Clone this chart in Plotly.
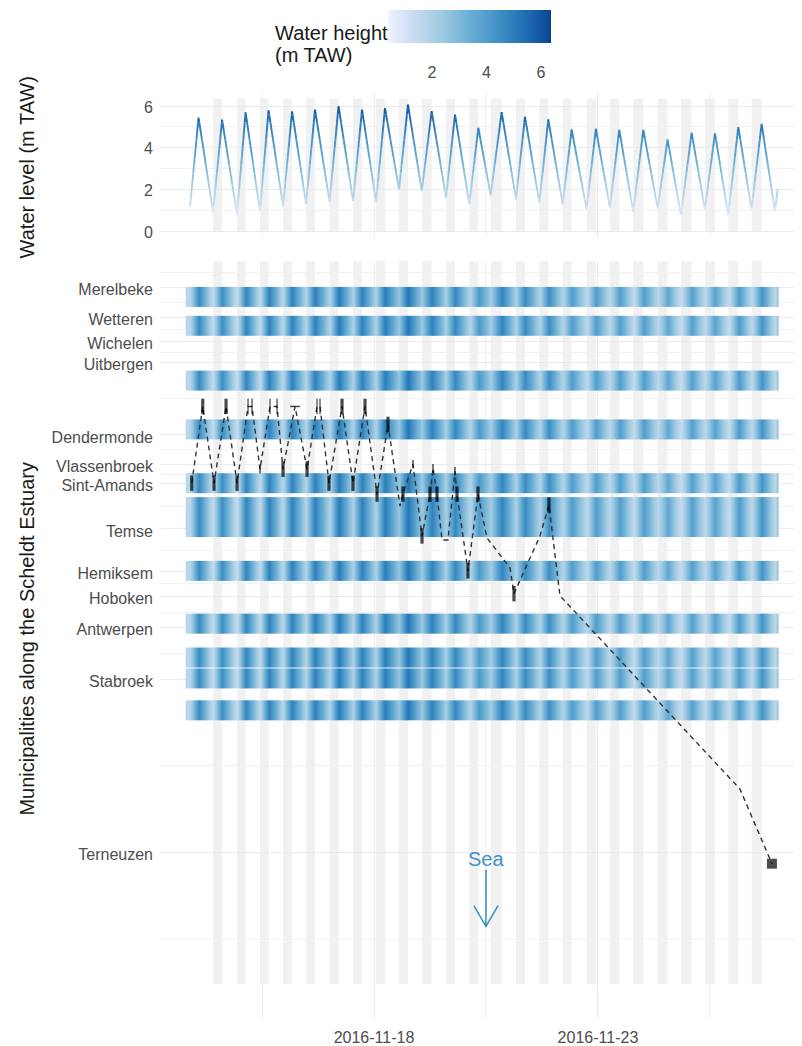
import plotly.graph_objects as go
from plotly.colors import sample_colorscale

# page body has an 8px margin; the figure is sized so that it fills the window
OFF = 8
WIN_W, WIN_H = 802, 1046
W, H = WIN_W - OFF, WIN_H - OFF

# ---------------- data ----------------
# Water level at the reference gauge (start, then alternating high / low water, end)
tide_time = [
    "2016-11-13 21:24", "2016-11-14 02:00", "2016-11-14 09:48", "2016-11-14 14:36",
    "2016-11-14 22:36", "2016-11-15 03:12", "2016-11-15 10:54", "2016-11-15 15:30",
    "2016-11-15 23:18", "2016-11-16 04:06", "2016-11-16 11:36", "2016-11-16 16:24",
    "2016-11-17 00:12", "2016-11-17 05:00", "2016-11-17 12:48", "2016-11-17 17:36",
    "2016-11-18 01:06", "2016-11-18 05:54", "2016-11-18 13:24", "2016-11-18 18:12",
    "2016-11-19 01:36", "2016-11-19 06:54", "2016-11-19 14:36", "2016-11-19 19:24",
    "2016-11-20 03:06", "2016-11-20 07:54", "2016-11-20 14:30", "2016-11-20 20:24",
    "2016-11-21 04:06", "2016-11-21 08:54", "2016-11-21 16:36", "2016-11-21 21:24",
    "2016-11-22 05:06", "2016-11-22 09:54", "2016-11-22 17:54", "2016-11-22 22:54",
    "2016-11-23 06:24", "2016-11-23 11:24", "2016-11-23 18:54", "2016-11-24 00:18",
    "2016-11-24 08:00", "2016-11-24 13:18", "2016-11-24 20:30", "2016-11-25 02:12",
    "2016-11-25 09:18", "2016-11-25 14:42", "2016-11-25 21:48", "2016-11-26 03:12",
    "2016-11-26 10:18", "2016-11-26 15:42", "2016-11-26 22:48", "2016-11-27 00:18",
]
tide_height = [
    1.15, 5.45, 0.90, 5.35, 0.80, 5.70, 0.97, 5.80, 1.20, 5.75, 1.30, 5.83,
    1.40, 6.00, 1.45, 5.83, 1.40, 5.90, 2.00, 6.07, 1.93, 5.76, 1.61, 5.60,
    1.29, 4.96, 1.72, 5.71, 1.53, 5.49, 1.37, 5.36, 1.29, 4.88, 1.05, 4.91,
    1.13, 4.86, 0.92, 4.86, 1.09, 4.40, 0.77, 4.72, 1.05, 4.69, 0.77, 4.99,
    1.05, 5.15, 0.97, 2.00,
]
station_height = [
    1.70, 4.60, 1.45, 4.50, 1.35, 4.80, 1.55, 4.90, 1.75, 4.90, 1.85, 4.90,
    1.95, 5.10, 2.00, 4.90, 1.95, 5.00, 2.50, 5.20, 2.40, 4.90, 2.15, 4.70,
    1.85, 4.10, 2.25, 4.80, 2.05, 4.60, 1.95, 4.50, 1.85, 4.00, 1.60, 4.00,
    1.65, 4.00, 1.45, 4.00, 1.65, 3.60, 1.35, 3.90, 1.60, 3.80, 1.35, 4.10,
    1.60, 4.30, 1.55, 2.50,
]

municipality = ["Merelbeke", "Wetteren", "Wichelen", "Uitbergen", "Dendermonde",
                "Vlassenbroek", "Sint-Amands", "Temse", "Hemiksem", "Hoboken",
                "Antwerpen", "Stabroek", "Terneuzen"]
municipality_km = [162.1, 154.6, 148.6, 143.2, 125.1, 117.6, 113.0, 101.5,
                   90.9, 84.5, 76.75, 63.8, 20.25]

# Receiver stations with modelled water height (rows of tiles)
station_km = [159.75, 152.5, 138.75, 126.5, 113.0, 107.0, 102.0, 91.0,
              77.75, 69.25, 64.0, 56.0]

# Track of the tagged animal
track_time = [
    "2016-11-13 22:20", "2016-11-14 04:14", "2016-11-14 10:17", "2016-11-14 16:43",
    "2016-11-14 22:37", "2016-11-15 04:30", "2016-11-15 06:38", "2016-11-15 10:56",
    "2016-11-15 16:17", "2016-11-15 20:02", "2016-11-15 23:15", "2016-11-16 05:41",
    "2016-11-16 12:07", "2016-11-16 17:28", "2016-11-16 19:04", "2016-11-16 23:53",
    "2016-11-17 06:52", "2016-11-17 12:45", "2016-11-17 19:11", "2016-11-18 01:37",
    "2016-11-18 07:30", "2016-11-18 13:56", "2016-11-18 15:32", "2016-11-18 20:53",
    "2016-11-19 01:43", "2016-11-19 06:00", "2016-11-19 07:37", "2016-11-19 09:45",
    "2016-11-19 12:26", "2016-11-19 15:38", "2016-11-19 19:23", "2016-11-19 20:28",
    "2016-11-20 02:21", "2016-11-20 07:43", "2016-11-20 12:32", "2016-11-21 00:51",
    "2016-11-21 03:00", "2016-11-21 16:56", "2016-11-21 21:45", "2016-11-22 03:38",
    "2016-11-26 04:04", "2016-11-26 19:04", "2016-11-26 21:13",
]
track_km = [
    113.0, 132.25, 113.0, 132.25, 113.0, 132.25, 132.25, 116.5, 132.25, 132.25,
    116.5, 132.25, 116.5, 132.25, 132.25, 113.0, 132.25, 113.0, 132.25, 110.25,
    127.75, 107.25, 110.25, 117.75, 99.75, 110.25, 116.75, 110.25, 98.75, 98.75,
    116.0, 110.25, 91.0, 110.25, 99.25, 91.75, 85.25, 99.75, 107.5, 84.75,
    36.25, 19.75, 17.5,
]
track_mark = [
    "bar", "bar", "bar", "bar", "bar", "thin", "thin", "small", "thin", "thin",
    "bar", "dash", "bar", "thin", "thin", "bar", "bar", "bar", "bar", "bar",
    "bar", "none", "bar", "small", "bar", "bar", "small", "bar", "none", "none",
    "small", "bar", "bar", "bar", "none", "none", "bar", "none", "bar", "none",
    "none", "none", "end",
]

# Sea annotation
SEA_TIME = "2016-11-20 12:00"
SEA_TEXT_KM = 18.6
SEA_TAIL_KM = 16.0
SEA_TIP_KM = 1.75
SEA_HEAD_KM = 7.0
SEA_HEAD_LEFT = "2016-11-20 05:30"
SEA_HEAD_RIGHT = "2016-11-20 18:30"

# colour scale
LEGEND_MIN, LEGEND_MAX = 0.385, 6.37
BLUES = ["#EFF3FF", "#C6DBEF", "#9ECAE1", "#6BAED6", "#4292C6", "#2171B5", "#084594"]
colorscale = [[i / 6, c] for i, c in enumerate(BLUES)]

# ---------------- layout geometry (window pixels -> paper fractions) ----------------
def px_x(p):
    return (p - OFF) / W

def px_y(p):
    return 1 - (p - OFF) / H

X_RANGE = ["2016-11-13 05:20", "2016-11-27 13:20"]
x_dom = [px_x(160), 1.0]
top_dom = [px_y(238), px_y(92)]
bot_dom = [px_y(1022), px_y(262)]
TOP_RANGE = [-0.287, 6.69]
BOT_RANGE = [-21.25, 168.75]
BAND_TOP_Y = [0.0, 6.36]
BAND_BOT_Y = [-12.75, BOT_RANGE[1]]

FONT = "Liberation Sans, Arial, sans-serif"
GRID = "#EBEBEB"
MINOR = "#F1F1F1"
TXT = "#4D4D4D"

fig = go.Figure()

# ---------------- top panel: gradient line via stacked clipped sub-axes ----------------
fig.add_trace(go.Scatter(x=tide_time, y=tide_height, mode="lines",
                         line=dict(color="rgba(0,0,0,0)", width=0),
                         xaxis="x2", yaxis="y2", hoverinfo="skip", showlegend=False))

band_edges = [round(0.0 + 0.4 * i, 2) for i in range(17)]
extra_axes = {}
for k in range(len(band_edges) - 1):
    a, b = band_edges[k], band_edges[k + 1]
    fa = top_dom[0] + (a - TOP_RANGE[0]) / (TOP_RANGE[1] - TOP_RANGE[0]) * (top_dom[1] - top_dom[0])
    fb = top_dom[0] + (b - TOP_RANGE[0]) / (TOP_RANGE[1] - TOP_RANGE[0]) * (top_dom[1] - top_dom[0])
    mid = (a + b) / 2
    frac = min(1, max(0, (mid - LEGEND_MIN) / (LEGEND_MAX - LEGEND_MIN)))
    col = sample_colorscale(colorscale, [frac])[0]
    name = f"yaxis{3 + k}"
    extra_axes[name] = dict(domain=[fa, fb], range=[a, b], anchor="x2", visible=False,
                            fixedrange=True)
    fig.add_trace(go.Scatter(x=tide_time, y=tide_height, mode="lines",
                             line=dict(color=col, width=1.9, simplify=False),
                             xaxis="x2", yaxis=f"y{3 + k}", hoverinfo="skip",
                             showlegend=False))

# ---------------- bottom panel: heat rows ----------------
for i, c in enumerate(station_km):
    fig.add_trace(go.Heatmap(
        x=tide_time, y=[c - 1.25, c + 1.25], z=[station_height, station_height],
        zsmooth="best", colorscale=colorscale, zmin=LEGEND_MIN, zmax=LEGEND_MAX,
        xaxis="x", yaxis="y", hoverinfo="skip",
        showscale=(i == 0),
        colorbar=dict(orientation="h", x=px_x((388 + 551) / 2), xanchor="center",
                      y=px_y(10), yanchor="top", len=163, lenmode="pixels",
                      thickness=33, thicknessmode="pixels", xpad=0, ypad=0,
                      outlinewidth=0, tickvals=[2, 4, 6], ticks="outside",
                      ticklen=16, tickcolor="rgba(0,0,0,0)",
                      tickfont=dict(size=16, color=TXT, family=FONT)),
    ))

# track
fig.add_trace(go.Scatter(x=track_time, y=track_km, mode="lines",
                         line=dict(color="#333333", width=1.4, dash="5px,4px"),
                         xaxis="x", yaxis="y", hoverinfo="skip", showlegend=False))

style = {"bar": ("line-ns", 11, 3.2), "thin": ("line-ns", 11, 1.3),
         "small": ("line-ns", 6, 1.5), "dash": ("line-ew", 7, 1.5),
         "end": ("square", 10, 0.0)}
mk = [(t, y, style[m]) for t, y, m in zip(track_time, track_km, track_mark) if m != "none"]
fig.add_trace(go.Scatter(
    x=[m[0] for m in mk], y=[m[1] for m in mk], mode="markers",
    marker=dict(symbol=[m[2][0] for m in mk], size=[m[2][1] for m in mk],
                color="black", line=dict(color="black", width=[m[2][2] for m in mk])),
    xaxis="x", yaxis="y", hoverinfo="skip", showlegend=False))

# Sea arrow
SEA_COL = "#3F93C6"
fig.add_trace(go.Scatter(
    x=[SEA_TIME, SEA_TIME, None, SEA_HEAD_LEFT, SEA_TIME, SEA_HEAD_RIGHT],
    y=[SEA_TAIL_KM, SEA_TIP_KM, None, SEA_HEAD_KM, SEA_TIP_KM, SEA_HEAD_KM],
    mode="lines", line=dict(color=SEA_COL, width=1.6),
    xaxis="x", yaxis="y", hoverinfo="skip", showlegend=False))

# ---------------- shading of flood periods ----------------
shapes = []
n = len(tide_height)
for i in range(1, n - 2):
    is_low = tide_height[i] < tide_height[i - 1] and tide_height[i] < tide_height[i + 1]
    next_high = tide_height[i + 1] > tide_height[i + 2]
    if is_low and next_high:
        for xr, yr, yy in (("x2", "y2", BAND_TOP_Y), ("x", "y", BAND_BOT_Y)):
            shapes.append(dict(type="rect", xref=xr, yref=yr, x0=tide_time[i],
                               x1=tide_time[i + 1], y0=yy[0], y1=yy[1],
                               fillcolor="#F1F1F1", line=dict(width=0), layer="below"))

# minor breaks for municipality axis
mk_minor = [(a + b) / 2 for a, b in zip(municipality_km[:-1], municipality_km[1:])]
mk_minor = ([municipality_km[0] + (municipality_km[0] - municipality_km[1]) / 2] + mk_minor
            + [municipality_km[-1] - (municipality_km[-2] - municipality_km[-1]) / 2])

x_major = ["2016-11-18", "2016-11-23"]
x_minor = ["2016-11-15 12:00", "2016-11-20 12:00", "2016-11-25 12:00"]

xaxis_common = dict(type="date", range=X_RANGE, domain=x_dom, showgrid=True,
                    gridcolor=GRID, gridwidth=1.1, zeroline=False, showline=False,
                    ticks="", tickvals=x_major, ticktext=x_major,
                    minor=dict(tickvals=x_minor, showgrid=True, gridcolor=MINOR, gridwidth=0.8),
                    fixedrange=True)

layout = dict(
    width=W, height=H, margin=dict(l=0, r=0, t=0, b=0),
    paper_bgcolor="white", plot_bgcolor="rgba(0,0,0,0)",
    font=dict(family=FONT, size=16, color=TXT),
    showlegend=False,
    xaxis=dict(**xaxis_common, anchor="y",
               tickfont=dict(size=16, color=TXT), ticklabelstandoff=8),
    xaxis2=dict(**xaxis_common, anchor="y2", matches="x", showticklabels=False),
    yaxis=dict(domain=bot_dom, range=BOT_RANGE, anchor="x", tickvals=municipality_km,
               ticktext=municipality, showgrid=True, gridcolor=GRID, gridwidth=1.1,
               zeroline=False, ticks="", ticklabelstandoff=6, ticklabelshift=2,
               minor=dict(tickvals=mk_minor, showgrid=True, gridcolor=MINOR, gridwidth=0.8),
               tickfont=dict(size=16, color=TXT), fixedrange=True),
    yaxis2=dict(domain=top_dom, range=TOP_RANGE, anchor="x2", tickvals=[0, 2, 4, 6],
                showgrid=True, gridcolor=GRID, gridwidth=1.1, zeroline=False, ticks="",
                ticklabelstandoff=6, ticklabelshift=1,
                minor=dict(tickvals=[1, 3, 5], showgrid=True, gridcolor=MINOR, gridwidth=0.8),
                tickfont=dict(size=16, color=TXT), fixedrange=True),
    shapes=shapes,
    annotations=[
        dict(text="Water level (m TAW)", x=px_x(27), y=px_y(168), xref="paper", yref="paper",
             textangle=-90, showarrow=False, xanchor="center", yanchor="middle",
             font=dict(size=20, color="#1a1a1a")),
        dict(text="Municipalities along the Scheldt Estuary", x=px_x(27), y=px_y(641),
             xref="paper", yref="paper", textangle=-90, showarrow=False,
             xanchor="center", yanchor="middle", font=dict(size=20, color="#1a1a1a")),
        dict(text="Water height", x=px_x(273), y=px_y(33), xref="paper", yref="paper",
             showarrow=False, xanchor="left", yanchor="middle",
             font=dict(size=20, color="#1a1a1a")),
        dict(text="(m TAW)", x=px_x(273), y=px_y(55), xref="paper", yref="paper",
             showarrow=False, xanchor="left", yanchor="middle",
             font=dict(size=20, color="#1a1a1a")),
        dict(text="Sea", x=SEA_TIME, y=SEA_TEXT_KM, xref="x", yref="y", showarrow=False,
             xanchor="center", yanchor="middle", font=dict(size=20, color=SEA_COL)),
    ],
)
layout.update(extra_axes)
fig.update_layout(**layout)

fig.write_html("out.html")
